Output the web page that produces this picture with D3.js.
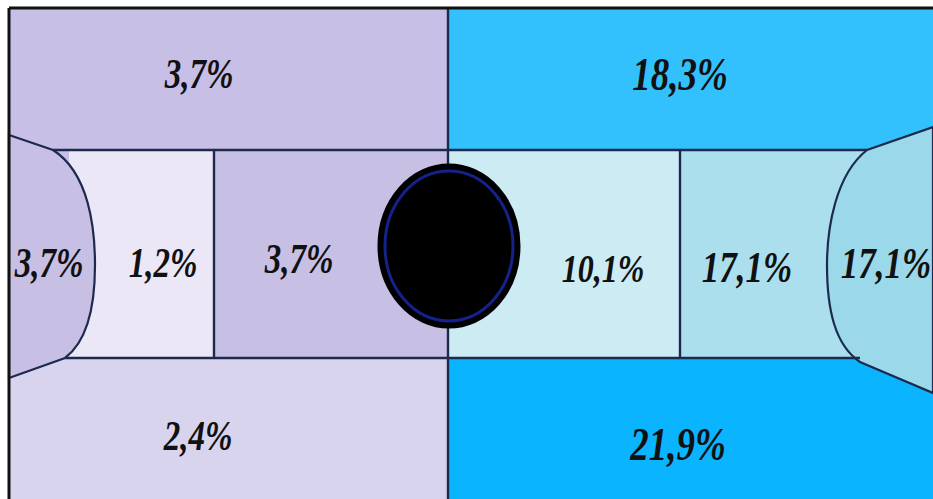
<!DOCTYPE html>
<html>
<head>
<meta charset="utf-8">
<script src="https://cdn.jsdelivr.net/npm/d3@7"></script>
<style>
  html, body { margin: 0; padding: 0; background: #fff; }
  svg { display: block; }
</style>
</head>
<body>
<svg id="chart" width="933" height="499"></svg>
<script>
// --- Daten: Wurfanteile pro Zone (in %) ---
const zones  = ["obenLinks", "untenLinks", "eckeLinks", "zoneLinks", "mitteLinks",
                "obenRechts", "untenRechts", "mitteRechts", "zoneRechts", "eckeRechts"];
const values = [3.7, 2.4, 3.7, 1.2, 3.7, 18.3, 21.9, 10.1, 17.1, 17.1];

// --- Zahlenformat mit Komma ---
const fmt = d3.formatLocale({ decimal: ",", thousands: ".", grouping: [3], currency: ["", "€"] }).format(".1f");

// --- Skalen: Spielfeld-Einheiten -> Pixel ---
const x = d3.scaleLinear().domain([0, 924]).range([9, 933]);
const y = d3.scaleLinear().domain([0, 491]).range([8, 499]);

const svg = d3.select("#chart");

// --- Farben pro Zone ---
const fill = {
  obenLinks: "#c7bfe6", untenLinks: "#d9d4ee", eckeLinks: "#c8bfe5", zoneLinks: "#ebe7f6", mitteLinks: "#c8bfe5",
  obenRechts: "#33c1fe", untenRechts: "#0bb4fe", mitteRechts: "#cdebf3", zoneRechts: "#abdfed", eckeRechts: "#9ad8ea"
};

// --- Geometrie (Feld-Einheiten) ---
const mid = 439, laneTop = 142, laneBot = 350, keyL = 205, keyR = 671;
const rects = {
  obenLinks:  [0, 0, mid, 246],
  untenLinks: [0, 246, mid, 491],
  zoneLinks:  [60, laneTop, keyL, laneBot],
  mitteLinks: [keyL, laneTop, mid, laneBot],
  obenRechts: [mid, 0, 924, 246],
  untenRechts:[mid, 246, 924, 491],
  mitteRechts:[mid, laneTop, keyR, laneBot],
  zoneRechts: [keyR, laneTop, 870, laneBot]
};

// Rechtecke zeichnen
svg.append("g").selectAll("rect")
  .data(Object.keys(rects))
  .join("rect")
  .attr("x", d => x(rects[d][0]))
  .attr("y", d => y(rects[d][1]))
  .attr("width", d => x(rects[d][2]) - x(rects[d][0]))
  .attr("height", d => y(rects[d][3]) - y(rects[d][1]))
  .attr("fill", d => fill[d]);

// Eckzonen (gebogen)
const p = (a, b) => `${x(a)},${y(b)}`;
const curves = {
  eckeLinks: `M${p(0, 127)} L${p(44, 142)} C${p(80, 165)} ${p(86, 220)} ${p(86, 257)} C${p(86, 295)} ${p(80, 332)} ${p(56, 350)} L${p(0, 370)} Z`,
  eckeRechts: `M${p(924, 119)} L${p(858, 142)} C${p(826, 167)} ${p(818, 222)} ${p(818, 257)} C${p(818, 302)} ${p(826, 337)} ${p(851, 354)} L${p(924, 385)} Z`
};
svg.append("g").selectAll("path")
  .data(Object.keys(curves))
  .join("path")
  .attr("d", d => curves[d])
  .attr("fill", d => fill[d])
  .attr("stroke", "#1c2a4e")
  .attr("stroke-width", 2.2);

// Linien
const lines = [
  [44, laneTop, 858, laneTop],
  [56, laneBot, 851, laneBot],
  [keyL, laneTop, keyL, laneBot],
  [keyR, laneTop, keyR, laneBot],
  [mid, 0, mid, 491]
];
svg.append("g").selectAll("line")
  .data(lines)
  .join("line")
  .attr("x1", d => x(d[0])).attr("y1", d => y(d[1]))
  .attr("x2", d => x(d[2])).attr("y2", d => y(d[3]))
  .attr("stroke", "#1c2a4e")
  .attr("stroke-width", 2.4);

// Rahmen oben und links
svg.append("line").attr("x1", x(0)).attr("y1", y(0)).attr("x2", x(924)).attr("y2", y(0))
  .attr("stroke", "#111").attr("stroke-width", 3);
svg.append("line").attr("x1", x(0)).attr("y1", y(0)).attr("x2", x(0)).attr("y2", y(491))
  .attr("stroke", "#111").attr("stroke-width", 3);

// Mittelkreis
svg.append("ellipse")
  .attr("cx", x(440)).attr("cy", y(238)).attr("rx", 69).attr("ry", 80)
  .attr("fill", "#000").attr("stroke", "#000").attr("stroke-width", 5);
svg.append("ellipse")
  .attr("cx", x(440)).attr("cy", y(238)).attr("rx", 64).attr("ry", 75)
  .attr("fill", "none").attr("stroke", "#14228a").attr("stroke-width", 3);

// --- Beschriftungen ---
const labelPos = {
  obenLinks: [190, 80, 33], untenLinks: [189, 442, 33], eckeLinks: [40, 269, 33],
  zoneLinks: [154, 269, 33], mitteLinks: [290, 265, 33], obenRechts: [671, 82, 37],
  untenRechts: [669, 452, 37], mitteRechts: [594, 274, 32], zoneRechts: [738, 274, 35],
  eckeRechts: [877, 270, 35]
};
svg.append("g").selectAll("text")
  .data(zones)
  .join("text")
  .attr("transform", d => `translate(${x(labelPos[d][0])},${y(labelPos[d][1])}) scale(1,1.25)`)
  .attr("text-anchor", "middle")
  .attr("font-family", "'Liberation Serif', 'DejaVu Serif', serif")
  .attr("font-style", "italic")
  .attr("font-weight", "bold")
  .attr("font-size", d => labelPos[d][2])
  .attr("fill", "#111")
  .text((d, i) => fmt(values[i]) + "%");
</script>
</body>
</html>
